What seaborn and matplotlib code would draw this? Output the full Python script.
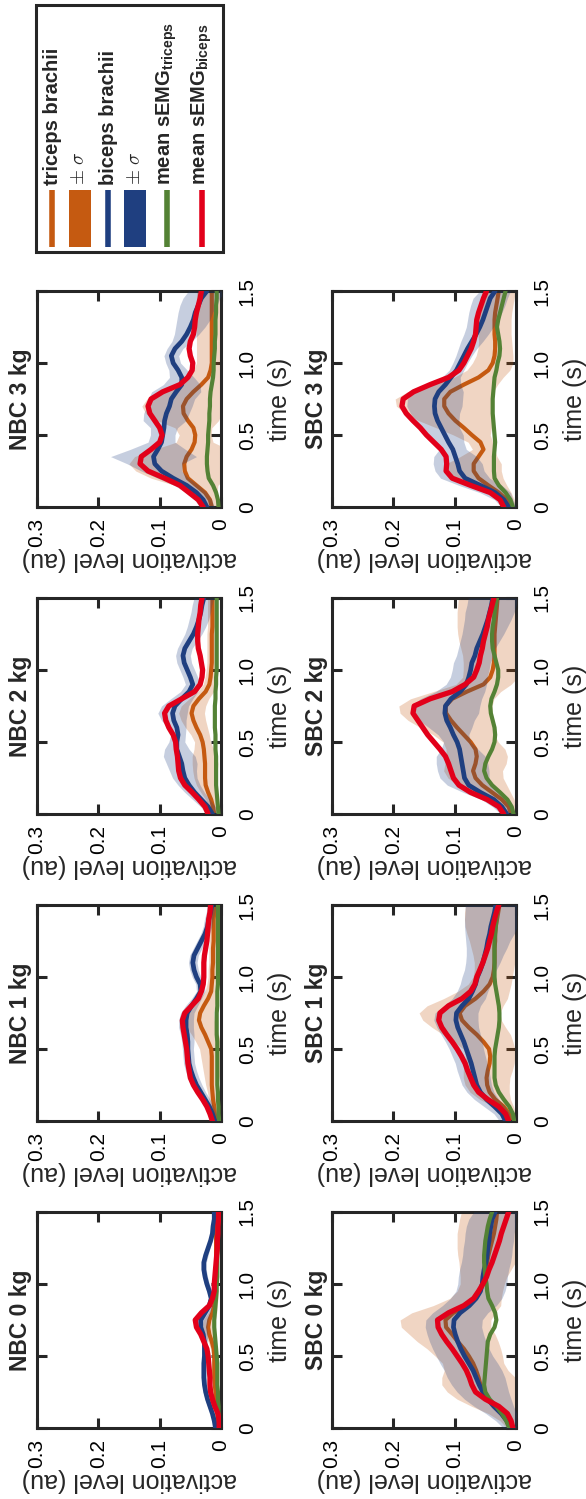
import matplotlib
matplotlib.use("Agg")
import matplotlib.pyplot as plt
import seaborn as sns
import pandas as pd
from matplotlib.lines import Line2D
from matplotlib.patches import Rectangle

# ---------------------------------------------------------------- data
TIME = [0.00, 0.05, 0.10, 0.15, 0.20, 0.25, 0.30, 0.35, 0.40, 0.45, 0.50,
        0.55, 0.60, 0.65, 0.70, 0.75, 0.80, 0.85, 0.90, 0.95, 1.00, 1.05,
        1.10, 1.15, 1.20, 1.25, 1.30, 1.35, 1.40, 1.45, 1.50]

ACT_TICKS = [0.0, 0.1, 0.2, 0.3]
ACT_LABELS = ["0", "0.1", "0.2", "0.3"]
TIME_TICKS = [0.0, 0.5, 1.0, 1.5]
TIME_LABELS = ["0", "0.5", "1.0", "1.5"]

CONDITIONS = ["NBC", "SBC"]
LOADS = [3, 2, 1, 0]

# NBC 0 kg
nbc0_tri = [0.004,0.005,0.006,0.007,0.008,0.009,0.010,0.011,0.011,0.011,0.011,0.012,0.015,0.019,0.021,0.019,0.014,0.011,0.009,0.009,0.008,0.008,0.008,0.008,0.008,0.008,0.008,0.008,0.007,0.007,0.007]
nbc0_tri_sd = [0.002,0.002,0.003,0.003,0.003,0.004,0.004,0.004,0.004,0.004,0.004,0.005,0.006,0.008,0.010,0.010,0.007,0.005,0.004,0.004,0.003,0.003,0.003,0.003,0.003,0.003,0.003,0.003,0.003,0.003,0.003]
nbc0_bi = [0.009,0.011,0.014,0.018,0.022,0.025,0.027,0.028,0.028,0.028,0.027,0.027,0.027,0.029,0.033,0.033,0.026,0.019,0.016,0.019,0.023,0.026,0.028,0.028,0.025,0.021,0.017,0.014,0.013,0.011,0.011]
nbc0_bi_sd = [0.003,0.003,0.003,0.004,0.004,0.004,0.004,0.004,0.004,0.004,0.004,0.004,0.005,0.007,0.010,0.012,0.008,0.005,0.004,0.004,0.004,0.004,0.004,0.004,0.004,0.003,0.003,0.003,0.003,0.003,0.003]
nbc0_emg_tri = [0.003,0.003,0.004,0.004,0.005,0.005,0.006,0.006,0.006,0.006,0.007,0.008,0.009,0.010,0.011,0.011,0.010,0.009,0.008,0.007,0.007,0.006,0.006,0.006,0.006,0.005,0.005,0.005,0.005,0.004,0.004]
nbc0_emg_bi = [0.003,0.003,0.005,0.010,0.014,0.017,0.018,0.018,0.019,0.020,0.021,0.023,0.028,0.033,0.040,0.042,0.032,0.019,0.014,0.011,0.011,0.010,0.009,0.008,0.007,0.006,0.006,0.005,0.005,0.004,0.004]

# NBC 1 kg
nbc1_tri = [0.008,0.010,0.011,0.013,0.014,0.015,0.015,0.015,0.015,0.015,0.016,0.021,0.026,0.032,0.036,0.034,0.028,0.021,0.016,0.015,0.014,0.014,0.013,0.013,0.013,0.012,0.012,0.012,0.012,0.011,0.011]
nbc1_tri_sd = [0.004,0.005,0.006,0.007,0.008,0.010,0.012,0.014,0.016,0.018,0.019,0.020,0.022,0.024,0.025,0.022,0.018,0.014,0.010,0.008,0.007,0.007,0.007,0.007,0.007,0.007,0.007,0.007,0.007,0.007,0.007]
nbc1_bi = [0.010,0.014,0.019,0.026,0.033,0.040,0.045,0.049,0.052,0.053,0.054,0.054,0.055,0.057,0.057,0.055,0.048,0.040,0.033,0.034,0.040,0.044,0.046,0.044,0.038,0.032,0.026,0.022,0.020,0.017,0.015]
nbc1_bi_sd = [0.006,0.006,0.007,0.008,0.008,0.009,0.009,0.009,0.009,0.009,0.009,0.010,0.011,0.012,0.012,0.011,0.010,0.008,0.007,0.007,0.007,0.007,0.007,0.007,0.007,0.007,0.007,0.007,0.007,0.007,0.007]
nbc1_emg_tri = [0.003,0.004,0.004,0.005,0.005,0.006,0.006,0.006,0.006,0.006,0.006,0.006,0.007,0.007,0.007,0.007,0.006,0.006,0.006,0.005,0.005,0.005,0.005,0.005,0.005,0.005,0.005,0.005,0.005,0.005,0.005]
nbc1_emg_bi = [0.014,0.018,0.023,0.030,0.038,0.045,0.050,0.052,0.054,0.055,0.056,0.058,0.060,0.062,0.063,0.059,0.048,0.037,0.032,0.029,0.028,0.028,0.028,0.027,0.025,0.023,0.022,0.021,0.020,0.018,0.017]

# NBC 2 kg
nbc2_tri = [0.011,0.013,0.016,0.021,0.025,0.026,0.026,0.026,0.027,0.028,0.030,0.034,0.040,0.045,0.048,0.045,0.036,0.025,0.019,0.017,0.016,0.015,0.015,0.015,0.015,0.015,0.014,0.014,0.014,0.014,0.014]
nbc2_tri_sd = [0.006,0.007,0.009,0.012,0.015,0.018,0.020,0.021,0.020,0.016,0.013,0.015,0.018,0.020,0.021,0.020,0.016,0.013,0.010,0.009,0.008,0.008,0.008,0.008,0.008,0.008,0.008,0.008,0.008,0.008,0.008]
nbc2_bi = [0.014,0.021,0.032,0.043,0.052,0.059,0.062,0.064,0.068,0.072,0.072,0.070,0.072,0.077,0.079,0.075,0.064,0.052,0.046,0.050,0.055,0.060,0.062,0.059,0.052,0.045,0.040,0.036,0.033,0.031,0.028]
nbc2_bi_sd = [0.010,0.012,0.014,0.016,0.018,0.020,0.022,0.025,0.026,0.020,0.013,0.012,0.015,0.020,0.024,0.022,0.018,0.014,0.012,0.012,0.012,0.012,0.012,0.012,0.013,0.014,0.015,0.016,0.016,0.016,0.016]
nbc2_emg_tri = [0.004,0.005,0.006,0.007,0.008,0.008,0.008,0.008,0.008,0.009,0.009,0.009,0.010,0.010,0.010,0.010,0.009,0.009,0.008,0.008,0.007,0.007,0.007,0.007,0.007,0.007,0.007,0.007,0.007,0.007,0.007]
nbc2_emg_bi = [0.021,0.026,0.036,0.047,0.059,0.066,0.069,0.070,0.071,0.073,0.074,0.078,0.085,0.090,0.092,0.085,0.064,0.043,0.034,0.031,0.030,0.032,0.034,0.037,0.038,0.038,0.037,0.036,0.034,0.033,0.031]

# NBC 3 kg
nbc3_tri = [0.015,0.018,0.026,0.040,0.054,0.059,0.060,0.056,0.048,0.043,0.042,0.045,0.054,0.061,0.062,0.056,0.045,0.032,0.021,0.017,0.015,0.015,0.015,0.015,0.015,0.015,0.015,0.015,0.015,0.015,0.015]
nbc3_tri_sd = [0.010,0.013,0.020,0.035,0.060,0.080,0.090,0.085,0.060,0.030,0.026,0.030,0.050,0.062,0.067,0.065,0.055,0.040,0.032,0.028,0.025,0.025,0.025,0.025,0.025,0.025,0.025,0.025,0.025,0.025,0.025]
nbc3_bi = [0.023,0.029,0.040,0.056,0.078,0.097,0.108,0.110,0.103,0.097,0.095,0.093,0.092,0.089,0.084,0.081,0.073,0.064,0.064,0.070,0.078,0.081,0.075,0.064,0.056,0.050,0.045,0.042,0.037,0.032,0.023]
nbc3_bi_sd = [0.012,0.014,0.017,0.020,0.025,0.033,0.045,0.070,0.045,0.022,0.020,0.022,0.035,0.037,0.037,0.038,0.040,0.030,0.020,0.015,0.012,0.012,0.013,0.016,0.020,0.024,0.027,0.028,0.030,0.030,0.030]
nbc3_emg_tri = [0.004,0.005,0.008,0.013,0.020,0.022,0.023,0.023,0.022,0.021,0.021,0.020,0.019,0.019,0.018,0.018,0.017,0.015,0.013,0.012,0.012,0.011,0.010,0.010,0.009,0.009,0.009,0.008,0.008,0.007,0.007]
nbc3_emg_bi = [0.029,0.037,0.052,0.067,0.092,0.119,0.132,0.130,0.114,0.100,0.096,0.100,0.108,0.116,0.119,0.114,0.095,0.067,0.054,0.047,0.046,0.050,0.052,0.050,0.045,0.043,0.042,0.040,0.037,0.034,0.032]

# SBC 0 kg
sbc0_tri = [0.007,0.011,0.020,0.034,0.046,0.054,0.058,0.061,0.065,0.070,0.077,0.085,0.095,0.104,0.114,0.115,0.102,0.080,0.066,0.059,0.055,0.053,0.050,0.047,0.045,0.042,0.039,0.036,0.034,0.032,0.031]
sbc0_tri_sd = [0.008,0.015,0.025,0.038,0.050,0.058,0.063,0.060,0.052,0.050,0.055,0.060,0.066,0.070,0.073,0.074,0.068,0.055,0.042,0.037,0.036,0.038,0.042,0.046,0.050,0.054,0.057,0.060,0.060,0.060,0.058]
sbc0_bi = [0.009,0.015,0.024,0.036,0.046,0.054,0.060,0.065,0.070,0.077,0.084,0.090,0.095,0.099,0.102,0.101,0.091,0.076,0.065,0.058,0.055,0.054,0.052,0.049,0.047,0.046,0.044,0.043,0.041,0.039,0.034]
sbc0_bi_sd = [0.012,0.018,0.025,0.032,0.038,0.042,0.045,0.047,0.047,0.047,0.046,0.046,0.046,0.046,0.046,0.046,0.045,0.044,0.042,0.040,0.040,0.040,0.040,0.040,0.040,0.040,0.040,0.040,0.040,0.038,0.035]
sbc0_emg_tri = [0.011,0.016,0.023,0.032,0.043,0.050,0.052,0.051,0.050,0.049,0.048,0.047,0.046,0.042,0.035,0.032,0.034,0.039,0.045,0.047,0.048,0.050,0.051,0.052,0.052,0.051,0.050,0.048,0.046,0.043,0.039]
sbc0_emg_bi = [0.005,0.008,0.014,0.028,0.050,0.066,0.072,0.076,0.081,0.088,0.096,0.104,0.113,0.121,0.127,0.128,0.110,0.085,0.069,0.061,0.054,0.048,0.044,0.039,0.035,0.031,0.027,0.024,0.020,0.016,0.012]

# SBC 1 kg
sbc1_tri = [0.008,0.011,0.020,0.034,0.043,0.047,0.048,0.046,0.043,0.042,0.044,0.053,0.064,0.077,0.088,0.092,0.083,0.066,0.053,0.043,0.038,0.036,0.035,0.035,0.035,0.034,0.034,0.033,0.031,0.029,0.027]
sbc1_tri_sd = [0.008,0.010,0.016,0.025,0.032,0.036,0.038,0.040,0.040,0.040,0.042,0.048,0.055,0.060,0.064,0.066,0.062,0.052,0.042,0.035,0.032,0.032,0.033,0.035,0.038,0.042,0.046,0.050,0.053,0.055,0.055]
sbc1_bi = [0.017,0.023,0.035,0.048,0.058,0.064,0.067,0.070,0.073,0.077,0.081,0.085,0.090,0.095,0.098,0.097,0.088,0.077,0.071,0.066,0.063,0.058,0.054,0.051,0.048,0.046,0.043,0.041,0.038,0.035,0.033]
sbc1_bi_sd = [0.010,0.013,0.017,0.020,0.022,0.024,0.025,0.026,0.026,0.027,0.028,0.030,0.032,0.034,0.036,0.035,0.030,0.027,0.025,0.025,0.025,0.026,0.028,0.030,0.033,0.036,0.040,0.043,0.046,0.048,0.050]
sbc1_emg_tri = [0.003,0.005,0.011,0.020,0.028,0.033,0.035,0.035,0.035,0.035,0.034,0.032,0.030,0.028,0.027,0.027,0.028,0.030,0.032,0.034,0.035,0.035,0.035,0.035,0.035,0.035,0.034,0.033,0.032,0.031,0.029]
sbc1_emg_bi = [0.012,0.017,0.028,0.046,0.061,0.069,0.074,0.079,0.083,0.089,0.096,0.104,0.113,0.121,0.126,0.124,0.110,0.088,0.074,0.067,0.064,0.059,0.054,0.050,0.046,0.043,0.040,0.038,0.035,0.032,0.028]

# SBC 2 kg
sbc2_tri = [0.008,0.012,0.023,0.039,0.055,0.066,0.070,0.066,0.064,0.066,0.074,0.085,0.096,0.106,0.114,0.115,0.104,0.080,0.053,0.042,0.038,0.036,0.035,0.035,0.035,0.035,0.034,0.033,0.032,0.031,0.030]
sbc2_tri_sd = [0.008,0.012,0.020,0.030,0.040,0.045,0.048,0.050,0.050,0.048,0.045,0.050,0.060,0.070,0.075,0.076,0.068,0.055,0.045,0.045,0.048,0.050,0.052,0.055,0.058,0.060,0.062,0.063,0.064,0.064,0.064]
sbc2_bi = [0.015,0.023,0.036,0.058,0.077,0.084,0.086,0.088,0.090,0.092,0.096,0.102,0.107,0.113,0.116,0.115,0.106,0.091,0.081,0.077,0.074,0.072,0.067,0.064,0.059,0.054,0.050,0.046,0.043,0.040,0.038]
sbc2_bi_sd = [0.010,0.015,0.020,0.028,0.035,0.040,0.042,0.042,0.040,0.030,0.022,0.025,0.035,0.045,0.055,0.056,0.050,0.040,0.033,0.030,0.030,0.030,0.030,0.030,0.032,0.034,0.036,0.038,0.040,0.040,0.040]
sbc2_emg_tri = [0.004,0.007,0.014,0.026,0.039,0.048,0.052,0.050,0.045,0.039,0.035,0.034,0.035,0.038,0.041,0.042,0.040,0.035,0.031,0.029,0.029,0.032,0.035,0.038,0.039,0.039,0.038,0.036,0.035,0.033,0.031]
sbc2_emg_bi = [0.020,0.028,0.047,0.074,0.093,0.102,0.106,0.110,0.115,0.124,0.134,0.144,0.152,0.160,0.168,0.166,0.140,0.104,0.083,0.069,0.064,0.060,0.058,0.055,0.053,0.050,0.047,0.045,0.042,0.039,0.036]

# SBC 3 kg
sbc3_tri = [0.009,0.015,0.028,0.045,0.061,0.069,0.069,0.061,0.053,0.058,0.072,0.085,0.099,0.110,0.117,0.117,0.107,0.085,0.061,0.045,0.038,0.035,0.034,0.034,0.035,0.035,0.035,0.034,0.032,0.030,0.028]
sbc3_tri_sd = [0.008,0.012,0.020,0.030,0.040,0.045,0.045,0.030,0.018,0.020,0.030,0.045,0.060,0.070,0.078,0.080,0.070,0.055,0.040,0.035,0.033,0.030,0.028,0.027,0.027,0.027,0.027,0.027,0.027,0.027,0.027]
sbc3_bi = [0.012,0.020,0.034,0.058,0.083,0.092,0.095,0.099,0.103,0.110,0.116,0.122,0.128,0.132,0.133,0.132,0.126,0.115,0.106,0.097,0.091,0.085,0.079,0.072,0.065,0.059,0.054,0.050,0.046,0.042,0.034]
sbc3_bi_sd = [0.012,0.015,0.025,0.035,0.040,0.040,0.040,0.035,0.022,0.025,0.030,0.030,0.035,0.040,0.045,0.045,0.040,0.025,0.015,0.012,0.012,0.013,0.015,0.018,0.020,0.022,0.025,0.027,0.028,0.028,0.025]
sbc3_emg_tri = [0.005,0.009,0.017,0.028,0.035,0.036,0.036,0.036,0.035,0.034,0.035,0.036,0.037,0.038,0.038,0.038,0.037,0.036,0.035,0.032,0.030,0.027,0.026,0.027,0.029,0.031,0.029,0.026,0.023,0.020,0.017]
sbc3_emg_bi = [0.020,0.026,0.042,0.074,0.104,0.114,0.113,0.114,0.122,0.134,0.146,0.156,0.168,0.179,0.186,0.184,0.167,0.140,0.110,0.093,0.085,0.079,0.073,0.069,0.066,0.065,0.064,0.061,0.057,0.053,0.048]

PANELS = {
    ("NBC", 0): (nbc0_tri, nbc0_tri_sd, nbc0_bi, nbc0_bi_sd, nbc0_emg_tri, nbc0_emg_bi),
    ("NBC", 1): (nbc1_tri, nbc1_tri_sd, nbc1_bi, nbc1_bi_sd, nbc1_emg_tri, nbc1_emg_bi),
    ("NBC", 2): (nbc2_tri, nbc2_tri_sd, nbc2_bi, nbc2_bi_sd, nbc2_emg_tri, nbc2_emg_bi),
    ("NBC", 3): (nbc3_tri, nbc3_tri_sd, nbc3_bi, nbc3_bi_sd, nbc3_emg_tri, nbc3_emg_bi),
    ("SBC", 0): (sbc0_tri, sbc0_tri_sd, sbc0_bi, sbc0_bi_sd, sbc0_emg_tri, sbc0_emg_bi),
    ("SBC", 1): (sbc1_tri, sbc1_tri_sd, sbc1_bi, sbc1_bi_sd, sbc1_emg_tri, sbc1_emg_bi),
    ("SBC", 2): (sbc2_tri, sbc2_tri_sd, sbc2_bi, sbc2_bi_sd, sbc2_emg_tri, sbc2_emg_bi),
    ("SBC", 3): (sbc3_tri, sbc3_tri_sd, sbc3_bi, sbc3_bi_sd, sbc3_emg_tri, sbc3_emg_bi),
}

# ---------------------------------------------------------------- style
ORANGE = "#C55A11"
BLUE = "#1F3F80"
GREEN = "#548235"
RED = "#E2001A"
FRAME = "#262626"

sns.set_theme(style="ticks")
plt.rcParams["font.family"] = ["Liberation Sans", "DejaVu Sans"]
plt.rcParams["mathtext.fontset"] = "custom"
plt.rcParams["mathtext.rm"] = "Liberation Sans"
plt.rcParams["mathtext.bf"] = "Liberation Sans:bold"
plt.rcParams["mathtext.it"] = "Liberation Sans:italic"

W_PX, H_PX = 586, 1499
fig = plt.figure(figsize=(W_PX / 100, H_PX / 100), dpi=100)
fig.patch.set_facecolor("white")


def fx(px):
    return px / W_PX


def fy(py):
    return 1 - py / H_PX


COL_LEFT = {"NBC": 37, "SBC": 332}
ROW_TOP = {3: 291, 2: 598, 1: 905, 0: 1212}
AX_W, AX_H = 184, 216


def draw_panel(ax, cond, load):
    tri, tri_sd, bi, bi_sd, emg_tri, emg_bi = PANELS[(cond, load)]
    df = pd.DataFrame({"time": TIME, "tri": tri, "tri_sd": tri_sd,
                       "bi": bi, "bi_sd": bi_sd,
                       "emg_tri": emg_tri, "emg_bi": emg_bi})

    ax.fill_betweenx(df["time"], df["tri"] - df["tri_sd"], df["tri"] + df["tri_sd"],
                     color=ORANGE, alpha=0.25, linewidth=0, zorder=1)
    sns.lineplot(data=df, x="tri", y="time", orient="y", color=ORANGE,
                 linewidth=3.0, errorbar=None, ax=ax, zorder=2)
    ax.fill_betweenx(df["time"], df["bi"] - df["bi_sd"], df["bi"] + df["bi_sd"],
                     color=BLUE, alpha=0.25, linewidth=0, zorder=3)
    sns.lineplot(data=df, x="bi", y="time", orient="y", color=BLUE,
                 linewidth=3.4, errorbar=None, ax=ax, zorder=4)
    sns.lineplot(data=df, x="emg_tri", y="time", orient="y", color=GREEN,
                 linewidth=3.0, errorbar=None, ax=ax, zorder=5)
    sns.lineplot(data=df, x="emg_bi", y="time", orient="y", color=RED,
                 linewidth=3.8, errorbar=None, ax=ax, zorder=6)

    ax.set_xlim(0.3, 0.0)
    ax.set_ylim(0.0, 1.5)
    ax.set_xticks(ACT_TICKS)
    ax.set_xticklabels(ACT_LABELS)
    ax.set_yticks(TIME_TICKS)
    ax.set_yticklabels(TIME_LABELS)

    for sp in ax.spines.values():
        sp.set_visible(True)
        sp.set_linewidth(2.2)
        sp.set_color(FRAME)
    ax.tick_params(direction="in", length=7, width=2.2, color=FRAME,
                   labelcolor="black", labelsize=15)
    ax.tick_params(axis="x", top=True, bottom=True, labeltop=False,
                   labelbottom=True, pad=8)
    ax.tick_params(axis="y", left=True, right=True, labelleft=False,
                   labelright=True, pad=12)
    for lab in ax.get_xticklabels():
        lab.set_rotation(90)
        lab.set_ha("center")
        lab.set_va("top")
    for lab in ax.get_yticklabels():
        lab.set_rotation(90)
        lab.set_ha("left")
        lab.set_va("center")

    ax.set_ylabel("time (s)", fontsize=18, rotation=90)
    ax.yaxis.set_label_position("right")
    ax.yaxis.label.set_ha("center")
    ax.yaxis.label.set_va("center")
    ax.yaxis.set_label_coords(1 + 59 / AX_W, 0.5)

    ax.set_xlabel("activation level (au)", fontsize=18, rotation=180)
    ax.xaxis.label.set_ha("center")
    ax.xaxis.label.set_va("center")
    ax.xaxis.set_label_coords(0.5, -52 / AX_H)

    ax.text(-16 / AX_W, 0.5, f"{cond} {load} kg", rotation=90,
            ha="center", va="center", transform=ax.transAxes,
            fontsize=16.5, fontweight="bold")


for cond in CONDITIONS:
    for load in LOADS:
        left = COL_LEFT[cond]
        top = ROW_TOP[load]
        ax = fig.add_axes([fx(left), fy(top + AX_H), AX_W / W_PX, AX_H / H_PX])
        ax.set_facecolor("white")
        draw_panel(ax, cond, load)

# ---------------------------------------------------------------- legend
fig.patches.append(Rectangle((fx(36), fy(252)), 187 / W_PX, 247 / H_PX,
                             transform=fig.transFigure, fill=False,
                             edgecolor=FRAME, linewidth=2.2, zorder=10))
LEG_TOP, LEG_BOT = 190, 247
legend_items = [
    ("line", ORANGE, 52, "triceps brachii"),
    ("patch", ORANGE, 80, r"$\pm\ \sigma$"),
    ("line", BLUE, 108, "biceps brachii"),
    ("patch", BLUE, 135, r"$\pm\ \sigma$"),
    ("line", GREEN, 167, r"mean sEMG$_{\mathbf{triceps}}$"),
    ("line", RED, 202, r"mean sEMG$_{\mathbf{biceps}}$"),
]
for kind, color, xc, label in legend_items:
    if kind == "line":
        fig.lines.append(Line2D([fx(xc), fx(xc)], [fy(LEG_BOT), fy(LEG_TOP)],
                                transform=fig.transFigure, color=color,
                                linewidth=4.0, solid_capstyle="butt"))
        fig.text(fx(xc), fy(LEG_TOP - 5), label, rotation=90, ha="center",
                 va="bottom", fontsize=14.5, fontweight="bold")
    else:
        fig.patches.append(Rectangle((fx(xc - 11), fy(LEG_BOT)), 22 / W_PX,
                                     (LEG_BOT - LEG_TOP) / H_PX,
                                     transform=fig.transFigure,
                                     facecolor=color, edgecolor="none"))
        fig.text(fx(xc), fy(LEG_TOP - 5), label, rotation=90, ha="center",
                 va="bottom", fontsize=14, math_fontfamily="cm")

fig.savefig("out.png", dpi=100, facecolor="white")
